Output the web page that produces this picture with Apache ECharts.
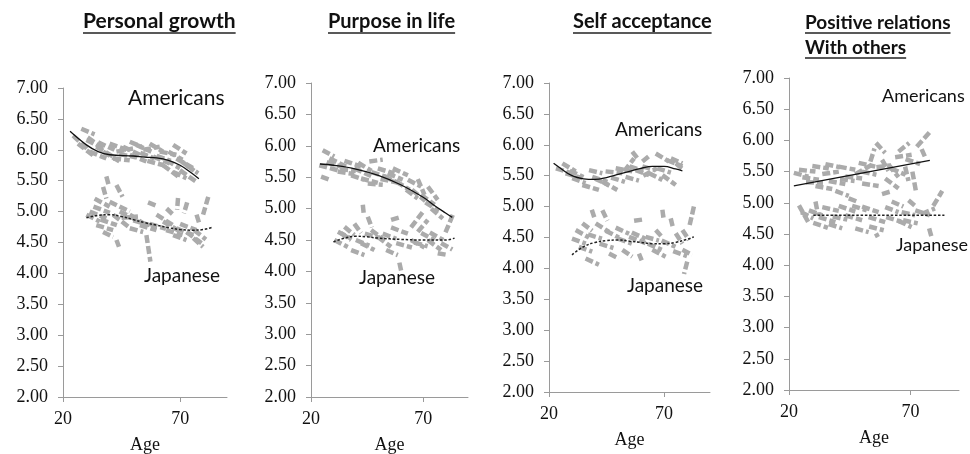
<!DOCTYPE html>
<html>
<head>
<meta charset="utf-8">
<script src="https://cdn.jsdelivr.net/npm/echarts@6/dist/echarts.min.js"></script>
<style>
html,body{margin:0;padding:0;background:#fff;}
#chart{width:970px;height:454px;}
</style>
</head>
<body>
<div id="chart"></div>
<script>
// ---------- DATA ----------
const panelTitles = [["Personal growth"], ["Purpose in life"], ["Self acceptance"], ["Positive relations", "With others"]];
const yTicks = [2.00, 2.50, 3.00, 3.50, 4.00, 4.50, 5.00, 5.50, 6.00, 6.50, 7.00];
const xTickLabels = [20, 70];
const groupLabels = ["Americans", "Japanese"];
const axisTitle = "Age";

// Trend lines [age, score]
const pgAmericansTrend = [[23,6.30],[30,6.08],[35,5.97],[40,5.92],[50,5.90],[55,5.88],[60,5.87],[65,5.83],[70,5.75],[75,5.62],[78,5.53]];
const pgJapaneseTrend  = [[30,4.90],[35,4.94],[40,4.95],[45,4.92],[50,4.87],[55,4.82],[60,4.78],[65,4.74],[70,4.71],[75,4.70],[80,4.71],[84,4.75]];
const plAmericansTrend = [[24,5.71],[30,5.69],[40,5.63],[50,5.53],[60,5.38],[70,5.18],[75,5.05],[80,4.93],[83,4.86]];
const plJapaneseTrend  = [[30,4.47],[35,4.53],[40,4.56],[45,4.55],[50,4.53],[60,4.51],[70,4.50],[80,4.50],[84,4.53]];
const saAmericansTrend = [[22,5.70],[25,5.62],[30,5.50],[35,5.45],[40,5.44],[45,5.47],[50,5.52],[55,5.57],[60,5.62],[65,5.65],[70,5.65],[75,5.61],[78,5.58]];
const saJapaneseTrend  = [[30,4.22],[35,4.35],[40,4.42],[45,4.45],[50,4.46],[55,4.44],[60,4.42],[65,4.40],[70,4.40],[75,4.42],[80,4.47],[83,4.51]];
const prAmericansTrend = [[22,5.27],[78,5.68]];
const prJapaneseTrend  = [[30,4.80],[84,4.80]];

// Individual trajectories [age1, score1, age2, score2]
const pgAmericansSegs = [
 [27.8,6.34,33.5,6.25],[24.3,6.23,30.7,6.00],[26.4,6.10,33.5,5.89],[30.0,6.16,37.1,6.02],[34.2,6.05,41.4,5.89],
 [37.1,5.97,44.2,5.81],[39.9,6.10,47.1,6.00],[42.8,5.97,49.9,6.02],[45.6,6.05,52.8,5.92],[48.5,5.92,55.6,5.81],
 [51.3,6.08,57.7,5.97],[54.2,6.00,61.3,6.05],[57.0,6.10,62.7,5.97],[58.5,5.89,65.6,5.78],[61.3,5.97,68.4,5.92],
 [64.2,5.83,69.9,5.70],[67.0,6.08,72.7,5.94],[62.7,5.75,69.1,5.57],[68.4,5.86,75.6,5.70],[69.9,5.67,77.0,5.48],
 [72.7,5.75,77.7,5.62],[48.5,6.13,53.5,6.05],[31.4,5.97,38.5,5.86],[41.4,5.86,48.5,5.83],[67.0,5.64,72.7,5.54],
 [30.5,6.20,36.0,6.05],[35.0,6.12,42.0,6.00],[44.0,5.93,51.0,5.88],[53.0,5.95,59.0,5.86],[60.0,5.90,66.0,5.82],
 [65.0,5.97,71.0,5.84],[56.0,5.82,63.0,5.75],[71.0,5.80,76.0,5.66]
];
const pgJapaneseSegs = [
 [38.5,5.57,39.7,5.40],[37.1,5.40,38.5,5.21],[42.8,5.43,45.4,5.24],[33.5,5.21,39.9,5.08],[31.4,5.00,38.5,4.89],
 [34.2,4.78,41.4,4.70],[39.9,5.16,48.5,5.00],[44.2,5.00,52.8,4.84],[41.4,4.95,47.8,4.76],[48.5,4.95,55.6,4.78],
 [52.8,4.78,59.9,4.70],[56.3,5.15,59.6,5.10],[69.1,5.22,68.7,5.03],[73.0,5.15,71.6,4.97],[82.0,5.24,79.8,4.95],
 [59.9,4.95,67.0,4.78],[62.7,4.84,69.9,4.68],[68.4,4.73,75.6,4.62],[72.7,4.67,79.1,4.49],[55.6,4.62,57.3,4.19],
 [42.8,4.54,43.9,4.43],[37.1,4.67,41.4,4.59],[77.0,4.95,78.4,4.78],[64.2,5.05,67.0,4.95],[48.5,4.73,54.2,4.67],
 [67.0,4.62,72.7,4.54],[75.6,4.57,79.8,4.43],[30.0,4.95,35.7,4.84],
 [33.0,5.08,40.0,4.98],[45.0,4.90,52.0,4.92],[50.0,4.86,57.0,4.78],[57.0,4.80,64.0,4.72],[64.0,4.70,71.0,4.62],
 [70.0,4.80,77.0,4.70],[76.0,4.70,81.0,4.55],[36.0,4.87,43.0,4.78]
];
const plAmericansSegs = [
 [25.2,5.93,30.4,5.83],[23.7,5.69,31.9,5.61],[24.5,5.51,28.2,5.46],[28.2,5.80,35.6,5.67],[31.9,5.59,39.3,5.55],
 [34.9,5.76,42.3,5.67],[39.3,5.64,46.8,5.52],[42.3,5.48,49.8,5.41],[46.0,5.75,52.0,5.78],[49.8,5.64,57.2,5.56],
 [52.7,5.51,59.4,5.40],[56.5,5.64,63.2,5.53],[45.3,5.40,52.0,5.38],[63.2,5.46,69.1,5.35],[67.6,5.47,70.6,5.22],
 [62.4,5.30,67.6,5.16],[69.1,5.22,75.1,5.06],[72.1,5.35,76.5,5.14],[73.6,5.00,78.8,4.84],[54.2,5.56,60.9,5.46],
 [37.9,5.53,43.8,5.46],
 [27.0,5.74,34.0,5.66],[33.0,5.63,40.0,5.60],[41.0,5.73,47.0,5.60],[47.0,5.58,54.0,5.50],[58.0,5.43,64.0,5.30],
 [65.0,5.30,71.0,5.12],[71.0,5.10,77.0,4.96],[51.0,5.47,58.0,5.42]
];
const plJapaneseSegs = [
 [43.1,5.06,43.5,4.92],[55.7,4.82,59.4,4.86],[34.9,4.71,39.3,4.58],[30.4,4.50,36.4,4.39],[39.3,4.76,42.3,4.61],
 [45.3,4.87,47.1,4.70],[46.8,4.66,52.7,4.50],[49.8,4.55,55.7,4.39],[37.9,4.34,43.8,4.26],[55.7,4.70,63.2,4.60],
 [64.6,4.70,69.9,4.95],[67.6,4.63,72.1,4.82],[83.2,4.90,79.5,4.58],[64.6,4.50,70.6,4.38],[72.1,4.50,78.0,4.34],
 [76.5,4.29,81.0,4.26],[59.4,4.14,60.2,4.01],[53.5,4.34,58.7,4.26],[69.1,4.61,75.1,4.50],[33.4,4.61,37.9,4.50],
 [42.3,4.45,48.3,4.34],
 [32.0,4.63,38.0,4.52],[40.0,4.50,46.0,4.41],[44.0,4.60,50.0,4.54],[52.0,4.60,58.0,4.52],[58.0,4.45,65.0,4.38],
 [66.0,4.46,72.0,4.40],[73.0,4.62,79.0,4.50],[78.0,4.45,83.0,4.35]
];
const saAmericansSegs = [
 [25.8,5.70,31.6,5.57],[27.2,5.54,34.5,5.46],[30.1,5.46,35.9,5.38],[34.5,5.35,41.7,5.27],[38.8,5.48,45.4,5.40],
 [43.2,5.40,49.7,5.27],[44.6,5.57,51.9,5.54],[49.0,5.62,56.2,5.57],[52.6,5.57,57.0,5.78],[56.2,5.89,59.1,5.75],
 [60.6,5.73,64.2,5.84],[66.4,5.86,72.2,5.73],[71.4,5.75,78.0,5.65],[63.5,5.54,69.3,5.43],[69.3,5.51,75.1,5.35],
 [53.3,5.48,59.1,5.42],[57.7,5.59,63.5,5.51],[60.6,5.65,66.4,5.59],[37.4,5.59,43.2,5.54],[75.1,5.70,78.7,5.59],
 [23.0,5.62,29.0,5.55],[29.0,5.58,35.0,5.48],[40.0,5.45,46.0,5.35],[47.0,5.47,53.0,5.40],[55.0,5.65,61.0,5.58],
 [61.0,5.50,67.0,5.62],[67.0,5.62,73.0,5.55],[73.0,5.78,78.0,5.70]
];
const saJapaneseSegs = [
 [38.6,4.95,40.0,4.79],[43.2,4.94,45.4,4.77],[69.3,4.95,69.9,4.78],[83.0,5.00,80.9,4.66],[57.0,4.77,60.6,4.79],
 [72.9,4.81,73.9,4.66],[31.6,4.62,37.4,4.50],[34.5,4.73,38.8,4.61],[40.3,4.73,46.1,4.59],[44.6,4.61,50.4,4.50],
 [49.0,4.66,54.8,4.56],[54.8,4.51,62.0,4.41],[62.0,4.51,67.8,4.45],[66.4,4.62,69.3,4.50],[75.1,4.57,78.0,4.40],
 [78.0,4.62,80.9,4.46],[33.0,4.35,38.8,4.27],[35.9,4.16,41.7,4.06],[46.1,4.24,50.4,4.16],[51.9,4.30,56.2,4.19],
 [59.1,4.24,60.3,4.13],[64.9,4.30,70.7,4.19],[78.0,4.30,82.3,4.22],[80.1,4.11,78.7,3.91],
 [30.0,4.48,36.0,4.40],[37.0,4.55,43.0,4.48],[42.0,4.40,48.0,4.33],[50.0,4.48,56.0,4.40],[56.0,4.58,62.0,4.48],
 [63.0,4.40,69.0,4.30],[69.0,4.45,75.0,4.35],[74.0,4.28,80.0,4.20]
];
const prAmericansSegs = [
 [24.1,5.53,30.9,5.50],[25.5,5.41,32.3,5.37],[29.6,5.59,36.4,5.55],[33.7,5.46,40.5,5.50],[36.4,5.35,43.2,5.30],
 [30.9,5.27,37.8,5.22],[40.5,5.58,47.3,5.53],[43.2,5.42,50.1,5.39],[39.1,5.19,44.6,5.11],[47.3,5.46,54.2,5.61],
 [48.7,5.64,55.5,5.58],[53.5,5.66,55.2,5.87],[55.8,5.96,59.6,5.80],[58.3,5.69,61.0,5.51],[61.0,5.61,65.1,5.41],
 [65.1,5.82,69.5,5.96],[63.7,5.73,70.5,5.77],[67.8,5.58,69.2,5.35],[70.8,5.50,72.2,5.20],[72.6,5.90,78.1,6.14],
 [74.6,5.86,76.3,5.71],[50.1,5.31,56.9,5.27],[59.6,5.39,65.1,5.23],
 [22.0,5.48,28.0,5.42],[27.0,5.33,34.0,5.32],[35.0,5.62,41.0,5.57],[41.0,5.38,47.0,5.35],[50.0,5.50,56.0,5.45],
 [56.0,5.57,62.0,5.60],[62.0,5.55,68.0,5.45],[68.0,5.70,74.0,5.62]
];
const prJapaneseSegs = [
 [24.1,4.96,28.2,4.67],[30.9,5.02,32.0,4.80],[33.7,4.93,40.5,4.87],[32.3,4.77,39.1,4.69],[36.4,4.66,41.9,4.59],
 [40.5,4.95,47.3,4.86],[43.2,4.80,50.1,4.72],[47.3,4.59,52.8,4.53],[50.1,4.94,56.9,4.85],[52.8,4.77,59.6,4.69],
 [55.8,4.51,56.6,4.45],[58.3,5.14,61.7,5.18],[59.6,4.93,65.1,4.85],[62.3,5.02,67.1,4.94],[66.4,4.85,71.9,4.80],
 [65.1,4.71,70.5,4.61],[69.2,5.04,72.6,4.93],[74.6,4.82,80.1,4.91],[79.4,4.95,83.1,5.19],[77.7,4.59,78.7,4.45],
 [44.6,5.07,48.7,5.01],[28.2,4.88,33.7,4.80],
 [25.0,4.85,30.0,4.75],[30.0,4.68,36.0,4.60],[38.0,4.78,44.0,4.73],[46.0,4.95,52.0,4.88],[53.0,4.62,59.0,4.56],
 [60.0,4.77,66.0,4.70],[67.0,4.72,73.0,4.67],[72.0,4.88,78.0,4.80]
];

const panels = [
  {am: pgAmericansTrend, jp: pgJapaneseTrend, amSegs: pgAmericansSegs, jpSegs: pgJapaneseSegs},
  {am: plAmericansTrend, jp: plJapaneseTrend, amSegs: plAmericansSegs, jpSegs: plJapaneseSegs},
  {am: saAmericansTrend, jp: saJapaneseTrend, amSegs: saAmericansSegs, jpSegs: saJapaneseSegs},
  {am: prAmericansTrend, jp: prJapaneseTrend, amSegs: prAmericansSegs, jpSegs: prJapaneseSegs}
];

// ---------- LAYOUT / STYLE ----------
const grids = [
  {left: 63, top: 88, width: 164, height: 309},
  {left: 311, top: 83, width: 157, height: 314},
  {left: 549, top: 83, width: 161, height: 309},
  {left: 789, top: 78, width: 170, height: 312}
];
const titlePos = [
  [{x: 83, y: 29}],
  [{x: 328, y: 29}],
  [{x: 573, y: 29}],
  [{x: 805, y: 29}, {x: 805, y: 54}]
];
const titleSize = [21, 20, 20, 19];
const amLabel = [{x: 128, y: 100, s: 21}, {x: 373, y: 148, s: 19}, {x: 615, y: 132, s: 19}, {x: 882, y: 98, s: 18}];
const jpLabel = [{x: 144, y: 278, s: 19}, {x: 359, y: 280, s: 19}, {x: 627, y: 288, s: 19}, {x: 896, y: 247, s: 18}];

const serif = 'Liberation Serif';
const sans = 'Lato';
const axisColor = '#9a9a9a';
const grey = '#ababab';

const xAxes = [], yAxes = [], series = [], graphics = [];
const measureCtx = document.createElement('canvas').getContext('2d');

grids.forEach((g, i) => {
  xAxes.push({
    type: 'value', gridIndex: i, min: 20, max: 90,
    name: axisTitle, nameLocation: 'middle', nameGap: 39,
    nameTextStyle: {fontFamily: serif, fontSize: 18, color: '#111'},
    axisLine: {show: true, lineStyle: {color: axisColor, width: 1}},
    axisTick: {show: true, length: 5, customValues: xTickLabels, lineStyle: {color: axisColor}},
    axisLabel: {customValues: xTickLabels, margin: 13, fontFamily: serif, fontSize: 18, color: '#111'},
    splitLine: {show: false}
  });
  yAxes.push({
    type: 'value', gridIndex: i, min: yTicks[0], max: yTicks[yTicks.length - 1], interval: 0.5,
    axisLine: {show: true, lineStyle: {color: axisColor, width: 1}},
    axisTick: {show: true, length: 5, lineStyle: {color: axisColor}},
    axisLabel: {margin: 15, fontFamily: serif, fontSize: 18, color: '#111', formatter: v => v.toFixed(2)},
    splitLine: {show: false}
  });
  const p = panels[i];
  [p.amSegs, p.jpSegs].forEach(segs => {
    series.push({
      type: 'lines', coordinateSystem: 'cartesian2d', xAxisIndex: i, yAxisIndex: i,
      polyline: false, silent: true, z: 1,
      lineStyle: {color: grey, width: 4.5, type: [8, 3], opacity: 1, curveness: 0},
      data: segs.map(s => ({coords: [[s[0], s[1]], [s[2], s[3]]]}))
    });
  });
  series.push({
    type: 'line', xAxisIndex: i, yAxisIndex: i, data: p.am, smooth: i === 3 ? false : 0.4,
    showSymbol: false, silent: true, z: 5,
    lineStyle: {color: '#111', width: 1.3, type: 'solid'}
  });
  series.push({
    type: 'line', xAxisIndex: i, yAxisIndex: i, data: p.jp, smooth: i === 3 ? false : 0.4,
    showSymbol: false, silent: true, z: 5,
    lineStyle: {color: '#222', width: 1.5, type: [2.5, 1.8]}
  });

  // titles with underline
  panelTitles[i].forEach((t, k) => {
    const pos = titlePos[i][k];
    const font = 'bold ' + titleSize[i] + 'px ' + sans;
    measureCtx.font = font;
    const w = measureCtx.measureText(t).width;
    graphics.push({type: 'text', left: pos.x, top: pos.y - titleSize[i] + 3,
      style: {text: t, font: font, fill: '#111'}});
    graphics.push({type: 'line', shape: {x1: pos.x, y1: pos.y + 4, x2: pos.x + w, y2: pos.y + 4},
      style: {stroke: '#222', lineWidth: 1.5}});
  });
  graphics.push({type: 'text', left: amLabel[i].x, top: amLabel[i].y - amLabel[i].s * 0.6,
    style: {text: groupLabels[0], font: amLabel[i].s + 'px ' + sans, fill: '#111'}});
  graphics.push({type: 'text', left: jpLabel[i].x, top: jpLabel[i].y - jpLabel[i].s * 0.6,
    style: {text: groupLabels[1], font: jpLabel[i].s + 'px ' + sans, fill: '#111'}});
});

const chart = echarts.init(document.getElementById('chart'), null, {renderer: 'canvas'});
chart.setOption({
  animation: false,
  backgroundColor: '#fff',
  grid: grids.map(g => Object.assign({containLabel: false, outerBoundsMode: 'none'}, g)),
  xAxis: xAxes,
  yAxis: yAxes,
  series: series,
  graphic: graphics
});
</script>
</body>
</html>
